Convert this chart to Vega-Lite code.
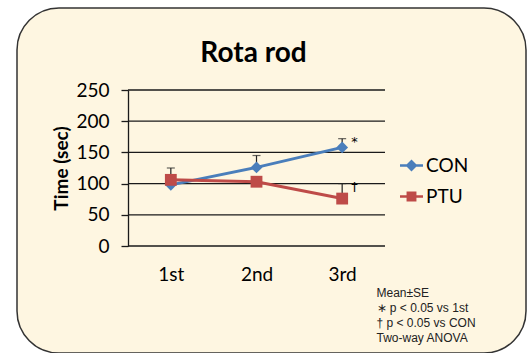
{
  "$schema": "https://vega.github.io/schema/vega-lite/v6.json",
  "width": 509,
  "height": 345,
  "autosize": {"type": "none"},
  "padding": {"left": 17, "top": 8, "right": 1, "bottom": 0},
  "background": "white",
  "view": {"fill": "#FEF6E1", "stroke": "#333333", "strokeWidth": 1.5, "cornerRadius": 42},
  "title": {"text": "Rota rod", "font": "Lato", "fontSize": 28, "fontWeight": "bold", "color": "#000000", "anchor": "middle", "frame": "group", "baseline": "alphabetic", "offset": 0, "dx": -18, "dy": 82},
  "datasets": {
    "grid": [{"g": 0}, {"g": 50}, {"g": 100}, {"g": 150}, {"g": 200}, {"g": 250}]
  },
  "data": {
    "values": [
      {"idx": 1, "trial": "1st", "group": "CON", "value": 98, "upper": 110, "sig": ""},
      {"idx": 2, "trial": "2nd", "group": "CON", "value": 126, "upper": 145, "sig": ""},
      {"idx": 3, "trial": "3rd", "group": "CON", "value": 158, "upper": 172, "sig": "*"},
      {"idx": 1, "trial": "1st", "group": "PTU", "value": 106, "upper": 125, "sig": ""},
      {"idx": 2, "trial": "2nd", "group": "PTU", "value": 103, "upper": 108, "sig": ""},
      {"idx": 3, "trial": "3rd", "group": "PTU", "value": 76, "upper": 100, "sig": "†"}
    ]
  },
  "layer": [
    {
      "data": {"name": "grid"},
      "mark": {"type": "rule", "color": "#1a1a1a", "strokeWidth": 1.3},
      "encoding": {
        "x": {
          "datum": 0.5, "type": "quantitative",
          "scale": {"domain": [0.5, 3.5], "range": [111, 368], "nice": false, "zero": false},
          "axis": {
            "orient": "bottom", "offset": -107, "values": [1, 2, 3],
            "labelExpr": "datum.value == 1 ? '1st' : datum.value == 2 ? '2nd' : '3rd'",
            "domain": false, "ticks": false, "grid": false, "labelFlush": false,
            "labelFont": "Lato", "labelFontSize": 19, "labelColor": "#000000", "labelPadding": 19,
            "title": ["Mean±SE", " ∗ p < 0.05 vs 1st", " † p < 0.05 vs CON", "Two-way ANOVA"],
            "titleFont": "Liberation Sans", "titleFontSize": 12, "titleFontWeight": "normal", "titleColor": "#222222",
            "titleX": 359, "titleY": 41, "titleAlign": "left", "titleBaseline": "top", "titleLineHeight": 15.3, "titleAngle": 0
          }
        },
        "x2": {"datum": 3.5},
        "y": {
          "field": "g", "type": "quantitative",
          "scale": {"domain": [0, 250], "range": [238, 82], "nice": false, "zero": true},
          "axis": {
            "orient": "left", "offset": -111, "values": [0, 50, 100, 150, 200, 250], "grid": false,
            "domainColor": "#1a1a1a", "domainWidth": 1.3, "tickColor": "#1a1a1a", "tickWidth": 1.3, "tickSize": 7,
            "labelFont": "Lato", "labelFontSize": 19, "labelColor": "#000000", "labelPadding": 12,
            "title": "Time (sec)", "titleFont": "Lato", "titleFontSize": 19, "titleFontWeight": "bold", "titleColor": "#000000",
            "titleAngle": -90, "titleX": -67, "titleY": 160, "titleAlign": "center", "titleBaseline": "middle"
          }
        }
      }
    },
    {
      "mark": {"type": "rule", "color": "#222222", "strokeWidth": 1.2},
      "encoding": {
        "x": {"field": "idx", "type": "quantitative"},
        "y": {"field": "value", "type": "quantitative"},
        "y2": {"field": "upper"}
      }
    },
    {
      "mark": {"type": "tick", "orient": "horizontal", "size": 8, "thickness": 1.2, "color": "#222222"},
      "encoding": {
        "x": {"field": "idx", "type": "quantitative"},
        "y": {"field": "upper", "type": "quantitative"}
      }
    },
    {
      "mark": {"type": "line", "strokeWidth": 3},
      "encoding": {
        "x": {"field": "idx", "type": "quantitative"},
        "y": {"field": "value", "type": "quantitative"},
        "detail": {"field": "group"},
        "color": {"condition": {"test": "datum.group === 'CON'", "value": "#4A7EBB"}, "value": "#BE4B48"}
      }
    },
    {
      "mark": {"type": "point", "filled": true, "size": 140, "opacity": 1},
      "encoding": {
        "x": {"field": "idx", "type": "quantitative"},
        "y": {"field": "value", "type": "quantitative"},
        "color": {"condition": {"test": "datum.group === 'CON'", "value": "#4A7EBB"}, "value": "#BE4B48"},
        "shape": {"condition": {"test": "datum.group === 'CON'", "value": "diamond"}, "value": "square"}
      }
    },
    {
      "mark": {"type": "point", "filled": true, "size": 10, "opacity": 0},
      "encoding": {
        "x": {"field": "idx", "type": "quantitative"},
        "y": {"field": "value", "type": "quantitative"},
        "color": {"field": "group", "type": "nominal", "scale": {"domain": ["CON", "PTU"], "range": ["#4A7EBB", "#BE4B48"]},
          "legend": {
            "orient": "none", "legendX": 383, "legendY": 146, "title": null,
            "labelFont": "Lato", "labelFontSize": 19, "labelColor": "#000000",
            "symbolSize": 529, "symbolOpacity": 1, "symbolStrokeWidth": 0, "labelOffset": 3, "rowPadding": 9, "padding": 0
          }
        },
        "shape": {"field": "group", "type": "nominal",
          "scale": {"domain": ["CON", "PTU"], "range": ["M-1,-0.11H1V0.11H-1Z M0,-0.52L0.52,0L0,0.52L-0.52,0Z", "M-1,-0.11H1V0.11H-1Z M-0.43,-0.43H0.43V0.43H-0.43Z"]},
          "legend": {
            "orient": "none", "legendX": 383, "legendY": 146, "title": null,
            "labelFont": "Lato", "labelFontSize": 19, "labelColor": "#000000",
            "symbolSize": 529, "symbolOpacity": 1, "symbolStrokeWidth": 0, "labelOffset": 3, "rowPadding": 9, "padding": 0
          }
        }
      }
    },
    {
      "mark": {"type": "text", "font": "DejaVu Sans", "fontSize": 13, "align": "left", "baseline": "middle", "dx": 9, "dy": 3, "color": "#000000"},
      "encoding": {
        "x": {"field": "idx", "type": "quantitative"},
        "y": {"field": "upper", "type": "quantitative"},
        "text": {"field": "sig"}
      }
    }
  ]
}
